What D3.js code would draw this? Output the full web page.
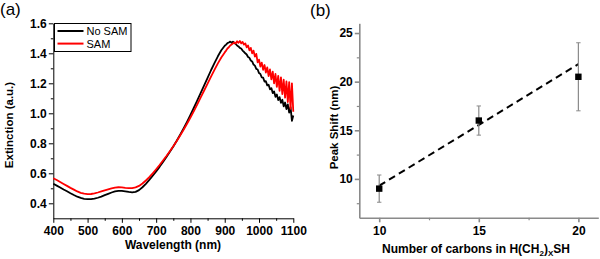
<!DOCTYPE html>
<html><head><meta charset="utf-8">
<script src="https://cdn.jsdelivr.net/npm/d3@7"></script>
<style>
html,body{margin:0;padding:0;background:#fff;}
svg{display:block;font-family:"Liberation Sans",Arial,sans-serif;}
.tick text{font-family:"Liberation Sans",Arial,sans-serif;}
</style></head>
<body>
<svg id="c" width="600" height="259"></svg>
<script>
// ---- Panel (a): extinction spectra ----
const wavelengthNm = [
400,410,420,430,440,450,460,470,480,490,
500,510,520,530,540,550,560,570,580,590,
600,610,620,630,640,650,660,670,680,690,
700,710,720,730,740,750,760,770,780,790,
800,810,820,830,840,850,860,870,880,890,
900,
904,908,912,916,920,924,928,932,936,940,
944,948,952,956,960,964,968,972,976,980,
984,988,992,996,1000,1004,1008,1012,1016,1020,
1024,1028,1032,1036,1040,1044,1048,1052,1056,1060,
1064,1068,1072,1076,1080,1084,1088,1092,1096,1100];
const noSAM = [
0.530,0.518,0.505,0.492,0.480,0.467,0.455,0.444,0.436,0.430,
0.428,0.428,0.431,0.437,0.445,0.454,0.463,0.472,0.479,0.483,
0.483,0.480,0.476,0.473,0.476,0.488,0.507,0.530,0.556,0.584,
0.613,0.643,0.675,0.708,0.743,0.779,0.817,0.857,0.899,0.943,
0.989,1.037,1.086,1.136,1.186,1.236,1.287,1.335,1.380,1.420,
1.450,
1.458,1.468,1.472,1.478,1.470,1.478,1.468,1.462,1.452,1.446,
1.436,1.432,1.418,1.410,1.400,1.392,1.375,1.370,1.352,1.346,
1.325,1.318,1.296,1.292,1.268,1.262,1.240,1.238,1.212,1.214,
1.186,1.190,1.160,1.168,1.135,1.146,1.110,1.125,1.088,1.108,
1.070,1.090,1.046,1.072,1.028,1.060,1.005,1.042,0.950,0.985];
const withSAM = [
0.567,0.555,0.542,0.529,0.516,0.503,0.491,0.479,0.470,0.464,
0.461,0.462,0.466,0.472,0.479,0.486,0.493,0.500,0.505,0.507,
0.506,0.503,0.501,0.501,0.506,0.516,0.532,0.552,0.574,0.600,
0.627,0.655,0.685,0.715,0.747,0.780,0.815,0.852,0.890,0.930,
0.972,1.015,1.060,1.106,1.152,1.198,1.245,1.290,1.333,1.372,
1.406,
1.418,1.432,1.440,1.452,1.458,1.466,1.472,1.466,1.480,1.470,
1.482,1.466,1.476,1.458,1.466,1.440,1.452,1.420,1.436,1.400,
1.418,1.378,1.396,1.340,1.358,1.312,1.338,1.290,1.322,1.272,
1.306,1.248,1.292,1.226,1.278,1.200,1.262,1.176,1.250,1.150,
1.240,1.128,1.224,1.104,1.212,1.075,1.208,1.030,1.200,1.010];
const seriesNames = ["No SAM","SAM"];
const seriesColors = ["#000000","#ff0000"];
const xTicksA = [400,500,600,700,800,900,1000,1100];
const yTicksA = [0.4,0.6,0.8,1.0,1.2,1.4,1.6];

// ---- Panel (b): peak shift ----
const carbons = [10,15,20];
const peakShift = [9,16,20.5];
const errLow = [7.6,14.5,17];
const errHigh = [10.4,17.5,24];
const fitX = [10,20];
const fitY = [9.3,21.8];
const xTicksB = [10,15,20];
const yTicksB = [10,15,20,25];

const svg = d3.select("#c");
const FONT = '"Liberation Sans",Arial,sans-serif';

// ===== Panel (a) =====
const xa = d3.scaleLinear().domain([400,1100]).range([53.3,293.3]);
const ya = d3.scaleLinear().domain([0.3,1.6]).range([218.3,23.3]);
const ga = svg.append("g");

function styleAxis(g, color, width){
  g.selectAll(".domain").attr("stroke",color).attr("stroke-width",width);
  g.selectAll(".tick line").attr("stroke",color).attr("stroke-width",width);
  g.selectAll(".tick text").attr("fill","#000").style("font-size","12px").style("font-weight","bold");
}
// minor ticks
ga.append("g").attr("transform","translate(0,218.3)")
  .call(d3.axisBottom(xa).tickValues(d3.range(450,1100,100)).tickSize(2.5).tickFormat(""))
  .call(g=>{g.select(".domain").remove(); g.selectAll(".tick line").attr("stroke","#000");});
ga.append("g").attr("transform","translate(53.3,0)")
  .call(d3.axisLeft(ya).tickValues([0.5,0.7,0.9,1.1,1.3,1.5]).tickSize(2.5).tickFormat(""))
  .call(g=>{g.select(".domain").remove(); g.selectAll(".tick line").attr("stroke","#000");});
ga.append("g").attr("transform","translate(0,218.3)")
  .call(d3.axisBottom(xa).tickValues(xTicksA).tickSize(4.5).tickSizeOuter(0).tickPadding(4).tickFormat(d3.format("d")))
  .call(g=>styleAxis(g,"#000",1));
ga.append("g").attr("transform","translate(53.3,0)")
  .call(d3.axisLeft(ya).tickValues(yTicksA).tickSize(4.5).tickSizeOuter(0).tickPadding(2).tickFormat(d3.format(".1f")))
  .call(g=>styleAxis(g,"#000",1));

const lineA = (vals)=> d3.line().x((d,i)=>xa(wavelengthNm[i])).y(d=>ya(d))(vals);
[noSAM, withSAM].forEach((vals,k)=>{
  ga.append("path").attr("d",lineA(vals)).attr("fill","none")
    .attr("stroke",seriesColors[k]).attr("stroke-width",1.8).attr("stroke-linejoin","round");
});

// legend
const lg = ga.append("g");
lg.append("rect").attr("x",54.5).attr("y",23.5).attr("width",76.5).attr("height",28)
  .attr("fill","#fff").attr("stroke","#000").attr("stroke-width",1);
seriesNames.forEach((n,k)=>{
  const yy = 31 + k*12.6;
  lg.append("line").attr("x1",57.5).attr("x2",83.5).attr("y1",yy).attr("y2",yy)
    .attr("stroke",seriesColors[k]).attr("stroke-width",2);
  lg.append("text").attr("x",86.5).attr("y",yy+4).text(n)
    .style("font-size","11px").style("font-family",FONT).attr("fill","#000");
});

ga.append("text").attr("x",173).attr("y",249).attr("text-anchor","middle")
  .style("font-size","12px").style("font-weight","bold").style("font-family",FONT).text("Wavelength (nm)");
ga.append("text").attr("transform","translate(13,125) rotate(-90)").attr("text-anchor","middle")
  .style("font-size","11.5px").style("font-weight","bold").style("font-family",FONT).text("Extinction (a.u.)");
ga.append("text").attr("x",0).attr("y",14.5).style("font-size","17px").style("font-family",FONT).text("(a)");

// ===== Panel (b) =====
const xb = d3.scaleLinear().domain([9,21]).range([359.3,598.3]);
const yb = d3.scaleLinear().domain([6,26]).range([217.8,23.3]);
const gb = svg.append("g");
const GRAY = "#8a8a8a";
gb.append("g").attr("transform","translate(0,217.8)")
  .call(d3.axisBottom(xb).tickValues([12.5,17.5]).tickSize(2.5).tickFormat(""))
  .call(g=>{g.select(".domain").remove(); g.selectAll(".tick line").attr("stroke",GRAY).attr("stroke-width",1.2);});
gb.append("g").attr("transform","translate(359.3,0)")
  .call(d3.axisLeft(yb).tickValues([7.5,12.5,17.5,22.5]).tickSize(2.5).tickFormat(""))
  .call(g=>{g.select(".domain").remove(); g.selectAll(".tick line").attr("stroke",GRAY).attr("stroke-width",1.2);});
gb.append("g").attr("transform","translate(0,217.8)")
  .call(d3.axisBottom(xb).tickValues(xTicksB).tickSize(4.5).tickSizeOuter(0).tickPadding(4).tickFormat(d3.format("d")))
  .call(g=>styleAxis(g,GRAY,1.6));
gb.append("g").attr("transform","translate(359.3,0)")
  .call(d3.axisLeft(yb).tickValues(yTicksB).tickSize(4.5).tickSizeOuter(0).tickPadding(2).tickFormat(d3.format("d")))
  .call(g=>styleAxis(g,GRAY,1.6));

// fit line
gb.append("path").attr("d", d3.line().x((d,i)=>xb(fitX[i])).y(d=>yb(d))(fitY))
  .attr("fill","none").attr("stroke","#000").attr("stroke-width",2).attr("stroke-dasharray","7,4.5");

// error bars
carbons.forEach((c,i)=>{
  const x = xb(c);
  gb.append("line").attr("x1",x).attr("x2",x).attr("y1",yb(errLow[i])).attr("y2",yb(errHigh[i]))
    .attr("stroke",GRAY).attr("stroke-width",1.2);
  [errLow[i],errHigh[i]].forEach(v=>{
    gb.append("line").attr("x1",x-2.2).attr("x2",x+2.2).attr("y1",yb(v)).attr("y2",yb(v))
      .attr("stroke",GRAY).attr("stroke-width",1);
  });
});
gb.selectAll("rect.pt").data(carbons).enter().append("rect").attr("class","pt")
  .attr("x",d=>xb(d)-3.2).attr("y",(d,i)=>yb(peakShift[i])-3.2).attr("width",6.4).attr("height",6.4).attr("fill","#000");

// labels
const xl = gb.append("text").attr("x",476).attr("y",253).attr("text-anchor","middle")
  .style("font-size","12px").style("font-weight","bold").style("font-family",FONT);
xl.append("tspan").text("Number of carbons in H(CH");
xl.append("tspan").attr("dy",3).style("font-size","8px").text("2");
xl.append("tspan").attr("dy",-3).text(")");
xl.append("tspan").attr("dy",3).style("font-size","8px").text("X");
xl.append("tspan").attr("dy",-3).text("SH");
gb.append("text").attr("transform","translate(338,127.5) rotate(-90)").attr("text-anchor","middle")
  .style("font-size","11.5px").style("font-weight","bold").style("font-family",FONT).text("Peak Shift (nm)");
gb.append("text").attr("x",310).attr("y",16).style("font-size","17px").style("font-family",FONT).text("(b)");
</script>
</body></html>
